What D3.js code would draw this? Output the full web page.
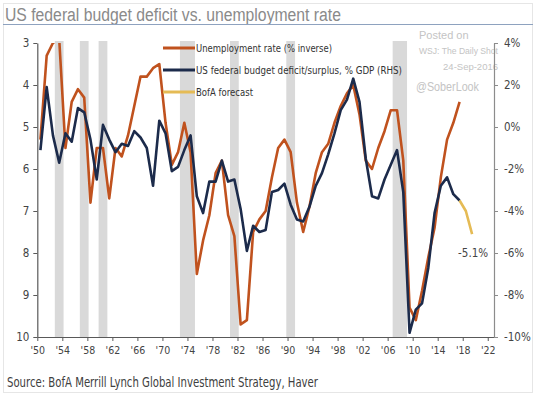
<!DOCTYPE html>
<html><head><meta charset="utf-8">
<script src="https://cdn.jsdelivr.net/npm/d3@7"></script>
<style>body{margin:0;background:#fff}svg{display:block}</style>
</head><body><svg id="c" width="540" height="400"></svg>
<script>
const years = d3.range(1950, 2018);
const unemployment = [5.3,3.3,3.0,2.9,5.5,4.4,4.1,4.3,6.8,5.5,
  5.5,6.7,5.5,5.7,5.2,4.5,3.8,3.8,3.6,3.5,
  4.9,5.9,5.6,4.9,5.6,8.5,7.7,7.1,6.1,5.8,
  7.1,7.6,9.7,9.6,7.5,7.2,7.0,6.2,5.5,5.3,
  5.6,6.8,7.5,6.9,6.1,5.6,5.4,4.9,4.5,4.2,
  4.0,4.7,5.8,6.0,5.5,5.1,4.6,4.6,5.8,9.3,
  9.6,8.9,8.1,7.4,6.2,5.3,4.9,4.4];
const deficit = [-1.1,1.9,-0.4,-1.7,-0.3,-0.7,0.9,0.7,-0.6,-2.5,
  0.1,-0.6,-1.2,-0.8,-0.9,-0.2,-0.5,-1.0,-2.8,0.3,
  -0.3,-2.1,-1.9,-1.1,-0.4,-3.3,-4.1,-2.6,-2.6,-1.6,
  -2.6,-2.5,-3.9,-5.9,-4.7,-5.0,-4.9,-3.1,-3.0,-2.7,
  -3.7,-4.4,-4.5,-3.8,-2.8,-2.2,-1.3,-0.3,0.8,1.3,
  2.3,1.2,-1.5,-3.3,-3.4,-2.5,-1.8,-1.1,-3.1,-9.8,
  -8.7,-8.4,-6.7,-4.1,-2.8,-2.4,-3.2,-3.5];
const forecastYears = [2017, 2018, 2019];
const forecast = [-3.5, -4.0, -5.1];
const recessionStart = [1952.8, 1956.8, 1959.8, 1972.8, 1980.8, 1989.8, 2006.8];
const recessionEnd   = [1954.2, 1958.2, 1961.2, 1975.2, 1982.2, 1991.2, 2009.1];
const xTicks = d3.range(1950, 2023, 4);
const leftTicks = d3.range(3, 11, 1);
const rightTicks = d3.range(-10, 5, 2);
const legendLabels = ["Unemployment rate (% inverse)", "US federal budget deficit/surplus, % GDP (RHS)", "BofA forecast"];
const legendWidths = [136, 206, 57];

const NARROW = '"DejaVu Sans Condensed","Liberation Sans Narrow",sans-serif';
const SANS = '"Liberation Sans",Arial,sans-serif';
const C_UN = "#c0521e", C_DEF = "#1c2b4b", C_FC = "#e5bb55";

const svg = d3.select("#c");
const L = 37.3, R = 494, T = 43, B = 337;
const x = d3.scaleLinear().domain([1950, 2023]).range([L, R]);
const yL = d3.scaleLinear().domain([3, 10]).range([T, B]);
const yR = d3.scaleLinear().domain([-10, 4]).range([B, T]);

// frame
svg.append("rect").attr("x", 3.5).attr("y", 3.5).attr("width", 529).attr("height", 389)
  .attr("fill", "none").attr("stroke", "#e6e6e6");

// title
svg.append("text").attr("x", 5).attr("y", 21).text("US federal budget deficit vs. unemployment rate")
  .attr("font-family", SANS).attr("font-size", 18).attr("fill", "#8a8a8a")
  .attr("textLength", 336).attr("lengthAdjust", "spacingAndGlyphs");
svg.append("line").attr("x1", 3).attr("x2", 533).attr("y1", 24.5).attr("y2", 24.5)
  .attr("stroke", "#8ea2bf").attr("stroke-width", 1.2);

// recession bars
svg.append("g").selectAll("rect").data(recessionStart).join("rect")
  .attr("x", (d) => x(d)).attr("width", (d, i) => x(recessionEnd[i]) - x(d))
  .attr("y", T - 2).attr("height", B - T + 2).attr("fill", "#d9d9d9");

// watermark
const wm = svg.append("g").attr("fill", "#c4c4c4").attr("font-family", SANS);
wm.append("text").attr("x", 419).attr("y", 39).attr("font-size", 11).text("Posted on");
wm.append("text").attr("x", 419).attr("y", 54).attr("font-size", 9.5).text("WSJ: The Daily Shot")
  .attr("textLength", 79).attr("lengthAdjust", "spacingAndGlyphs");
wm.append("text").attr("x", 498).attr("y", 70).attr("font-size", 9.5).attr("text-anchor", "end").text("24-Sep-2016");
wm.append("text").attr("x", 416).attr("y", 91).attr("font-size", 13.5).text("@SoberLook")
  .attr("textLength", 63).attr("lengthAdjust", "spacingAndGlyphs");

// clip
svg.append("clipPath").attr("id", "clip").append("rect")
  .attr("x", L).attr("y", T).attr("width", R - L).attr("height", B - T);

const g = svg.append("g").attr("clip-path", "url(#clip)");
const lineUn = d3.line().x((d, i) => x(years[i] + 0.5)).y((d) => yL(d));
const lineDef = d3.line().x((d, i) => x(years[i] + 0.5)).y((d) => yR(d));
const lineFc = d3.line().x((d, i) => x(forecastYears[i] + 0.5)).y((d) => yR(d));
g.append("path").datum(unemployment).attr("d", lineUn).attr("fill", "none")
  .attr("stroke", C_UN).attr("stroke-width", 2.6).attr("stroke-linejoin", "round");
g.append("path").datum(deficit).attr("d", lineDef).attr("fill", "none")
  .attr("stroke", C_DEF).attr("stroke-width", 2.6).attr("stroke-linejoin", "round");
g.append("path").datum(forecast).attr("d", lineFc).attr("fill", "none")
  .attr("stroke", C_FC).attr("stroke-width", 2.6).attr("stroke-linejoin", "round");

// axes
const axColor = "#595959";
const gx = svg.append("g").attr("transform", `translate(0,${B})`)
  .call(d3.axisBottom(x).tickValues(xTicks).tickSize(4).tickSizeOuter(0)
    .tickFormat((d) => "'" + String(d).slice(2)));
const gl = svg.append("g").attr("transform", `translate(${L},0)`)
  .call(d3.axisLeft(yL).tickValues(leftTicks).tickSize(4).tickSizeOuter(0)
    .tickFormat(d3.format("d")));
const gr = svg.append("g").attr("transform", `translate(${R},0)`)
  .call(d3.axisRight(yR).tickValues(rightTicks).tickSize(4).tickSizeOuter(0)
    .tickFormat((d) => d + "%"));
[gx, gl, gr].forEach((a) => {
  a.select(".domain").attr("stroke", axColor).attr("stroke-width", 1.2);
  a.selectAll(".tick line").attr("stroke", axColor);
  a.selectAll("text").attr("fill", "#444").attr("font-family", NARROW);
});
gr.select(".domain").attr("stroke", "#8c8c8c");
gr.selectAll(".tick line").attr("stroke", "#8c8c8c");
gx.selectAll("text").attr("font-size", 10.5).attr("dy", "0.95em").attr("y", 7);
gl.selectAll("text").attr("font-size", 11.5).attr("x", -8);
gr.selectAll("text").attr("font-size", 11.5).attr("x", 10);

// forecast end label
svg.append("text").attr("x", x(2019.5) + 16).attr("y", yR(-5.1) + 23)
  .attr("text-anchor", "end").attr("font-family", NARROW).attr("font-size", 11.5)
  .attr("fill", "#444").text("-5.1%");

// legend
const colors = [C_UN, C_DEF, C_FC];
const lg = svg.append("g");
legendLabels.forEach((lab, i) => {
  const yy = 48 + i * 22;
  lg.append("line").attr("x1", 163).attr("x2", 195).attr("y1", yy).attr("y2", yy)
    .attr("stroke", colors[i]).attr("stroke-width", 3);
  lg.append("text").attr("x", 196).attr("y", yy + 4.2).text(lab)
    .attr("font-family", NARROW).attr("font-size", 10.8).attr("fill", "#333")
    .attr("textLength", legendWidths[i]).attr("lengthAdjust", "spacingAndGlyphs");
});

// source
svg.append("text").attr("x", 7).attr("y", 387)
  .text("Source:  BofA Merrill Lynch Global Investment Strategy, Haver")
  .attr("font-family", NARROW).attr("font-size", 13.5).attr("fill", "#404040")
  .attr("textLength", 311).attr("lengthAdjust", "spacingAndGlyphs");
</script></body></html>
